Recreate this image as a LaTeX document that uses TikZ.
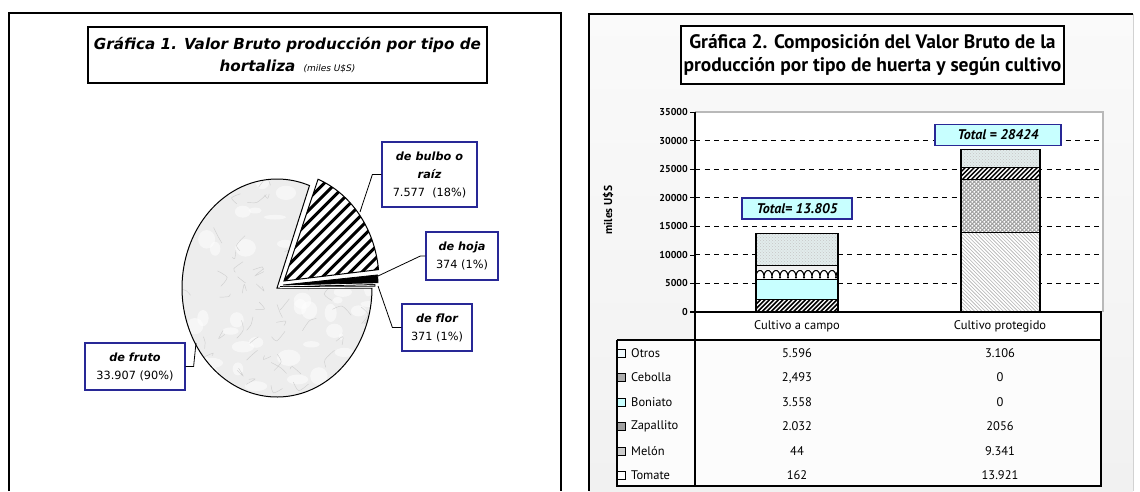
\documentclass[tikz,border=0pt]{standalone}
\usepackage{fontspec}
\setmainfont{DejaVu Sans}
\newfontfamily\lf{DejaVu Sans}
\newfontfamily\rf{PT Sans}
\usetikzlibrary{patterns}
\definecolor{lblue}{RGB}{40,40,150}
\definecolor{cyanl}{RGB}{200,255,255}
\definecolor{otrosc}{RGB}{226,236,236}
\colorlet{sqA}{cyan!6}
\colorlet{sqB}{gray!65}
\colorlet{sqC}{cyanl}
\colorlet{sqD}{gray!75}
\colorlet{sqE}{gray!40}
\colorlet{sqF}{white}
\newcommand\bi[1]{{\bfseries\itshape #1}}
% hatch helpers: x1, ytop, x2, ybottom, step, style
\newcommand\hatchNE[6]{\begin{scope}\clip (#1,#2) rectangle (#3,#4);\pgfmathsetmacro\hhh{#4-#2}\foreach \i in {0,...,70}{\draw[#6] ({#1-\hhh+\i*#5},#4) -- ++(\hhh,-\hhh);}\end{scope}}
\newcommand\hatchNW[6]{\begin{scope}\clip (#1,#2) rectangle (#3,#4);\pgfmathsetmacro\hhh{#4-#2}\foreach \i in {0,...,70}{\draw[#6] ({#1-\hhh+\i*#5},#2) -- ++(\hhh,\hhh);}\end{scope}}
\begin{document}
\begin{tikzpicture}[x=1pt,y=-1pt,
  lbox/.style={draw=lblue, line width=1.2pt, fill=white, align=center, inner sep=2pt,
    font=\lf\fontsize{11.3}{18}\selectfont},
  totbox/.style={draw=lblue, fill=cyanl, line width=1.5pt, minimum height=21pt, inner sep=2pt,
    font=\rf\bfseries\itshape\fontsize{14}{14}\selectfont},
  ticklab/.style={anchor=east, inner sep=0pt, font=\rf\bfseries\fontsize{10}{10}\selectfont},
  tabtxt/.style={inner sep=0pt, font=\rf\fontsize{12.5}{13}\selectfont},
  leader/.style={line width=0.8pt},
  gridl/.style={line width=1pt, dash pattern=on 5pt off 4.5pt},
  seg/.style={line width=1.1pt}]
\useasboundingbox (0,0) rectangle (1140,491);
\fill[white] (0,0) rectangle (1140,491);

%================ LEFT PANEL =================
\draw[line width=1.5pt] (9,491) -- (9,13) -- (561,13) -- (561,491);
\node[draw, line width=1.2pt, minimum width=399pt, minimum height=56pt, align=center, inner sep=1pt,
  font=\lf\bfseries\itshape\fontsize{15.2}{22}\selectfont] (t1) at (287.5,55)
  {Gráfica 1. Valor Bruto producción por tipo de\\hortaliza {\mdseries\fontsize{9}{9}\selectfont\ (miles U\$S)}};

% --- fruto slice (marble) ---
\path[save path=\fruto] (277,288) -- plot[domain=70:360,samples=140] ({277+95*cos(\x)},{288-109*sin(\x)}) -- cycle;
\fill[gray!14, use path=\fruto];
\begin{scope}
  \clip[use path=\fruto];
  \pgfmathsetseed{11}
  \foreach \i in {1,...,60}{
    \pgfmathsetmacro\xa{277+100*rand}\pgfmathsetmacro\ya{288+112*rand}
    \fill[white, opacity=0.55] (\xa,\ya) ellipse ({7+5*rand} and {6+4*rand});}
  \foreach \i in {1,...,70}{
    \pgfmathsetmacro\xa{277+100*rand}\pgfmathsetmacro\ya{288+112*rand}
    \pgfmathsetmacro\xb{\xa+10*rand}\pgfmathsetmacro\yb{\ya+10*rand}
    \pgfmathsetmacro\xc{\xb+10*rand}\pgfmathsetmacro\yc{\yb+10*rand}
    \draw[gray!38, line width=0.45pt] plot[smooth] coordinates {(\xa,\ya) (\xb,\yb) (\xc,\yc)};}
\end{scope}
\draw[line width=1pt, use path=\fruto];

% --- flor slice ---
\path[save path=\flor] (280,286.5) -- plot[domain=0.2:1.1,samples=6] ({280+95*cos(\x)},{286.5-109*sin(\x)}) -- cycle;
\draw[white, line width=3pt, use path=\flor];
\filldraw[fill=white, draw=black, line width=0.8pt, use path=\flor];
% --- hoja slice ---
\path[save path=\hoja] (283,285) -- plot[domain=1.2:5.3,samples=8] ({283+95*cos(\x)},{285-109*sin(\x)}) -- cycle;
\draw[white, line width=2.5pt, use path=\hoja];
\filldraw[fill=black, draw=black, line width=0.8pt, use path=\hoja];
% --- bulbo slice (hatched) ---
\path[save path=\bulbo] (284,281) -- plot[domain=6:69,samples=60] ({284+95*cos(\x)},{281-109*sin(\x)}) -- cycle;
\draw[white, line width=4pt, use path=\bulbo];
\fill[white, use path=\bulbo];
\begin{scope}
  \clip[use path=\bulbo];
  \foreach \i in {0,...,30}{\draw[line width=3pt] ({160+\i*11.5},290) -- ++(130,-130);}
\end{scope}
\draw[line width=1pt, use path=\bulbo];

% --- labels ---
\node[lbox, minimum width=95pt, minimum height=65pt] (lbulbo) at (429.5,174.5)
  {\bi{de bulbo o}\\\bi{raíz}\\7.577\ \ (18\%)};
\node[lbox, minimum width=72pt, minimum height=48pt] (lhoja) at (462,256)
  {\bi{de hoja}\\374 (1\%)};
\node[lbox, minimum width=70pt, minimum height=47pt] (lflor) at (437,327.5)
  {\bi{de flor}\\371 (1\%)};
\node[lbox, minimum width=100pt, minimum height=47pt] (lfruto) at (135,366.5)
  {\bi{de fruto}\\33.907 (90\%)};
\coordinate (pbulbo) at (360,212);
\coordinate (phoja) at (378,276);
\coordinate (pflor) at (378,286);
\coordinate (pfruto) at (196,343);
\draw[leader] (lbulbo.west) -- ++(-9,0) -- (pbulbo);
\draw[leader] (lhoja.west) -- ++(-5,0) -- (phoja);
\draw[leader] (lflor.west) -- ++(-9,0) -- (pflor);
\draw[leader] (lfruto.east) -- ++(8,0) -- (pfruto);

%================ RIGHT PANEL =================
\shade[top color=gray!4, bottom color=gray!11] (589,14) rectangle (1133,491);
\draw[line width=1.5pt] (589,491) -- (589,14) -- (1133,14);
\draw[gray!35, line width=1pt] (1133,14) -- (1133,491);

\node[draw, fill=white, line width=1.2pt, minimum width=383pt, minimum height=58pt, align=center,
  inner sep=1pt, font=\rf\bfseries\fontsize{19.5}{23}\selectfont] (t2) at (872.5,55)
  {Gráfica 2. Composición del Valor Bruto de la\\producción por tipo de huerta y según cultivo};

% plot area
\fill[white] (695,112) rectangle (1103,312);
\draw[gray!55, line width=1.6pt] (695,112) -- (1103,112) -- (1103,312);
\foreach \yy in {283.4,254.9,226.3,197.7,169.2,140.6}{\draw[gridl] (695,\yy) -- (1101,\yy);}

% y ticks
\foreach \v/\yy in {35000/112,30000/140.6,25000/169.2,20000/197.7,15000/226.3,10000/254.9,5000/283.4,0/312}{
  \draw[line width=0.8pt] (690,\yy) -- (695,\yy);
  \node[ticklab] (tk\v) at (688,\yy) {\v};}
\node[rotate=90, inner sep=0pt, font=\rf\bfseries\fontsize{11.5}{12}\selectfont] (ylab) at (608,210) {miles U\$S};

% ----- bar 1 (Cultivo a campo) -----
\fill[white] (756,233.1) rectangle (838,312);
\hatchNE{756}{299.7}{838}{312}{4.5}{line width=1.5pt}
\fill[cyanl] (756,279.3) rectangle (838,299.7);
\begin{scope}
  \clip (756,265.1) rectangle (838,279.3);
  \fill[white] (756,265.1) rectangle (838,279.3);
  \fill[gray!12] (756,265.1) rectangle (838,270);
  \foreach \i in {0,...,10}{
    \draw[line width=1.1pt] plot[domain=0:180,samples=14] ({756+\i*8+4-4*cos(\x)},{276.5-6*sin(\x)});
    \fill ({756+\i*8},277.5) circle (1.1pt);}
\end{scope}
\fill[otrosc] (756,233.1) rectangle (838,265.1);
\fill[pattern=crosshatch dots, pattern color=gray!45] (756,233.1) rectangle (838,265.1);
\foreach \yy in {299.7,279.3,265.1}{\draw[seg] (756,\yy) -- (838,\yy);}
\draw[seg] (756,233.1) rectangle (838,312);

% ----- bar 2 (Cultivo protegido) -----
\fill[white] (961,149.6) rectangle (1040,312);
\hatchNW{961}{232.5}{1040}{312}{3.6}{gray!60, line width=0.6pt}
\hatchNE{961}{179.1}{1040}{232.5}{4}{gray!75, line width=0.9pt}
\hatchNW{961}{179.1}{1040}{232.5}{4}{gray!75, line width=0.9pt}
\hatchNE{961}{167.3}{1040}{179.1}{4.5}{line width=1.5pt}
\fill[otrosc] (961,149.6) rectangle (1040,167.3);
\fill[pattern=crosshatch dots, pattern color=gray!45] (961,149.6) rectangle (1040,167.3);
\foreach \yy in {232.5,179.1,167.3}{\draw[seg] (961,\yy) -- (1040,\yy);}
\draw[seg] (961,149.6) rectangle (1040,312);

% totals
\node[totbox, minimum width=110pt] (tot1) at (797,208.5) {Total= 13.805};
\node[totbox, minimum width=126pt] (tot2) at (998,135) {Total = 28424};

% ----- data table -----
\fill[white] (695,312) rectangle (1101,340);
\fill[gray!2] (617,340) rectangle (1101,486);
\draw[line width=1.2pt] (695,112) -- (695,486);
\draw[line width=1.2pt] (690,312) -- (1101,312);
\draw[line width=1.2pt] (617,340) -- (1101,340);
\draw[line width=1.2pt] (617,340) -- (617,486) -- (1101,486);
\draw[line width=2pt] (1101,311) -- (1101,487);

\node[tabtxt] (c1) at (797,326) {Cultivo a campo};
\node[tabtxt] (c2) at (1000,326) {Cultivo protegido};

\foreach \k/\nm/\va/\vb/\sq in {
   0/Otros/5.596/3.106/sqA,
   1/Cebolla/{2,493}/0/sqB,
   2/Boniato/3.558/0/sqC,
   3/Zapallito/2.032/2056/sqD,
   4/Melón/44/9.341/sqE,
   5/Tomate/162/13.921/sqF}{
  \pgfmathsetmacro\ry{353+24.5*\k}
  \filldraw[line width=0.9pt, fill=\sq] (617,\ry-4) rectangle (625,\ry+4);
  \node[tabtxt, anchor=west] (n\k) at (631,\ry) {\nm};
  \node[tabtxt] (a\k) at (797,\ry) {\va};
  \node[tabtxt] (b\k) at (1000,\ry) {\vb};}
\end{tikzpicture}
\end{document}
